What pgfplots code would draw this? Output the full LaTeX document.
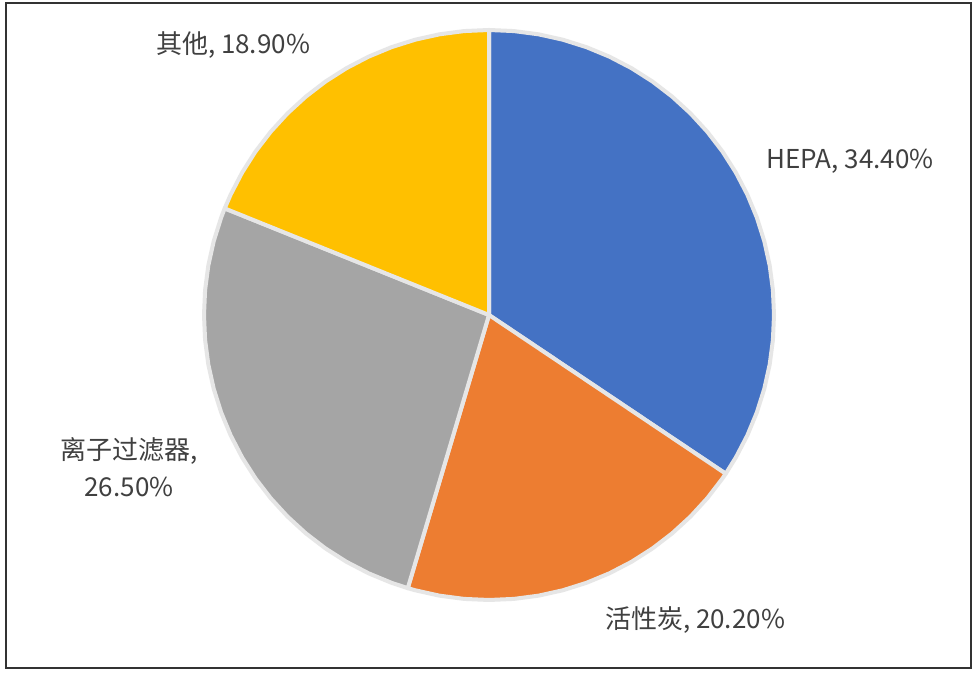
\documentclass[border=0pt]{standalone}
\usepackage{pgfplots}
\pgfplotsset{compat=1.18}
\usepackage{fontspec}
\setmainfont{Noto Sans CJK SC}
\definecolor{cBlue}{HTML}{4472C4}
\definecolor{cOrange}{HTML}{ED7D31}
\definecolor{cGray}{HTML}{A5A5A5}
\definecolor{cYellow}{HTML}{FFC000}
\definecolor{cEdge}{HTML}{E6E6E6}
\definecolor{cText}{HTML}{404040}
\begin{document}
\begin{tikzpicture}
\begin{axis}[
  x=1pt, y=1pt,
  xmin=-489, xmax=489, ymin=-361, ymax=315,
  hide axis, clip=false,
  data cs=polar,
]
% background and frame
\fill[white] (axis cs:-489,-361) rectangle (axis cs:489,315);
\draw[black!80, line width=1.2pt] (axis cs:-483,-353) rectangle (axis cs:482,312);
% HEPA 34.4% : 90 -> -33.84
\addplot[fill=cBlue, draw=cEdge, line width=4pt, line join=round] coordinates {
(0,0) (90,285) (85,285) (80,285) (75,285) (70,285) (65,285) (60,285) (55,285) (50,285)
(45,285) (40,285) (35,285) (30,285) (25,285) (20,285) (15,285) (10,285) (5,285) (0,285)
(-5,285) (-10,285) (-15,285) (-20,285) (-25,285) (-30,285) (-33.84,285) (0,0)};
% 活性炭 20.2% : -33.84 -> -106.56
\addplot[fill=cOrange, draw=cEdge, line width=4pt, line join=round] coordinates {
(0,0) (-33.84,285) (-35,285) (-40,285) (-45,285) (-50,285) (-55,285) (-60,285) (-65,285)
(-70,285) (-75,285) (-80,285) (-85,285) (-90,285) (-95,285) (-100,285) (-105,285) (-106.56,285) (0,0)};
% 离子过滤器 26.5% : -106.56 -> -201.96
\addplot[fill=cGray, draw=cEdge, line width=4pt, line join=round] coordinates {
(0,0) (-106.56,285) (-110,285) (-115,285) (-120,285) (-125,285) (-130,285) (-135,285)
(-140,285) (-145,285) (-150,285) (-155,285) (-160,285) (-165,285) (-170,285) (-175,285)
(-180,285) (-185,285) (-190,285) (-195,285) (-200,285) (-201.96,285) (0,0)};
% 其他 18.9% : -201.96 -> -270
\addplot[fill=cYellow, draw=cEdge, line width=4pt, line join=round] coordinates {
(0,0) (-201.96,285) (-205,285) (-210,285) (-215,285) (-220,285) (-225,285) (-230,285)
(-235,285) (-240,285) (-245,285) (-250,285) (-255,285) (-260,285) (-265,285) (-270,285) (0,0)};
% labels
\node[text=cText, font=\fontsize{26}{37}\selectfont] at (axis cs:361,154) {HEPA, 34.40\%};
\node[text=cText, font=\fontsize{26}{37}\selectfont] at (axis cs:206,-305) {活性炭, 20.20\%};
\node[text=cText, font=\fontsize{26}{37}\selectfont, align=center] at (axis cs:-360,-152) {离子过滤器,\\26.50\%};
\node[text=cText, font=\fontsize{26}{37}\selectfont] at (axis cs:-256,270) {其他, 18.90\%};
\end{axis}
\end{tikzpicture}
\end{document}
